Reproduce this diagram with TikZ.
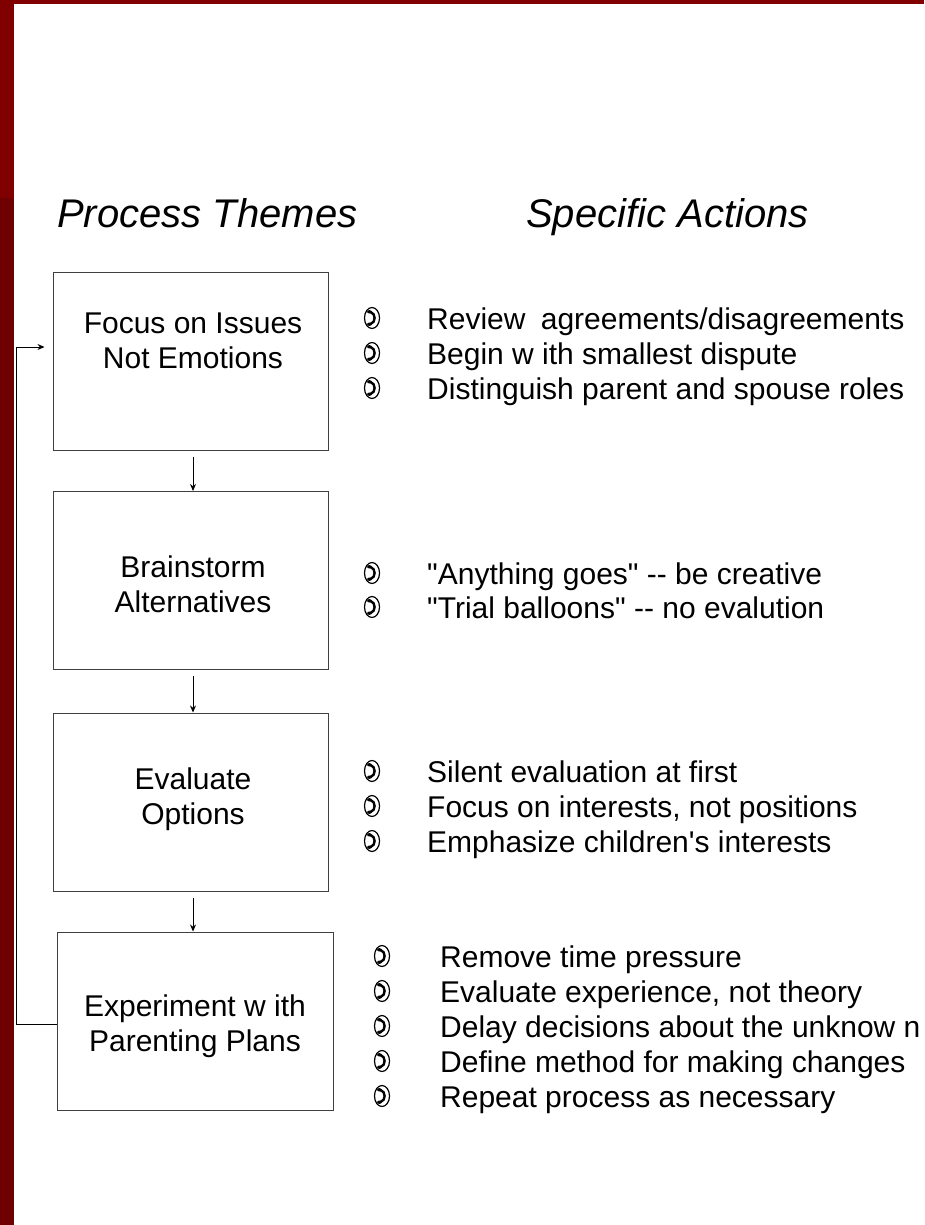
\documentclass[tikz,border=0pt]{standalone}
\usepackage{fontspec}
\setmainfont{Liberation Sans}[Ligatures=TeXOff]
\usetikzlibrary{arrows.meta}
\definecolor{barred}{HTML}{800000}
\definecolor{bardark}{HTML}{6E0000}
% one action line: bullet mark, then its text on the given baseline
\newcommand\actline[5]{%
  \pic at (#2,#4-11) {handsetmark};
  \node[item] (#1) at (#3,#4) {#5};}
\begin{document}
\begin{tikzpicture}[x=1pt,y=-1pt,
  box/.style={draw=black!75, line width=1pt, minimum width=275pt, minimum height=178pt, inner sep=0pt},
  boxtext/.style={align=center, font=\fontsize{30}{34.5}\selectfont, inner sep=0pt},
  head/.style={font=\fontsize{40}{40}\selectfont\itshape, anchor=base west, inner sep=0pt},
  item/.style={font=\fontsize{30}{30}\selectfont, anchor=base west, inner sep=0pt},
  arr/.style={-{Stealth[length=7pt,width=6pt]}, line width=1pt},
  handsetmark/.pic={
    \draw[line width=1.2pt] (0,0) ellipse [x radius=7.5, y radius=10.5];
    \draw[line width=2.4pt] (-1.5,-6) .. controls (4,-4.5) and (4,4.5) .. (-1.5,6);
    \fill (-2.6,-6.2) ellipse [x radius=2.3, y radius=1.7];
    \fill (-2.6,6.2) ellipse [x radius=2.3, y radius=1.7];
  }]
\useasboundingbox (0,0) rectangle (924,1225);
\clip (0,0) rectangle (924,1225);
\fill[white] (0,0) rectangle (924,1225);
% frame bars
\fill[barred] (0,0) rectangle (924,4);
\fill[barred] (0,0) rectangle (14,198);
\fill[bardark] (0,198) rectangle (14,1225);

% column headings
\node[head] (h1) at (57,227) {Process Themes};
\node[head] (h2) at (526,227) {Specific Actions};

% process boxes
\node[box] (b1) at (190.5,361) {};
\node[box] (b2) at (190.5,580.5) {};
\node[box] (b3) at (190.5,802) {};
\node[box, minimum width=276pt] (b4) at (195,1021) {};

\node[boxtext] (t1) at (193,341) {Focus on Issues\\Not Emotions};
\node[boxtext] (t2) at (193,584.5) {Brainstorm\\Alternatives};
\node[boxtext] (t3) at (193,799) {Evaluate\\Options};
\node[boxtext] (t4) at (195,1026) {Experiment w ith\\Parenting Plans};

% flow arrows
\draw[arr, shorten <=6pt] ([xshift=2.5pt]b1.south) -- ([xshift=2.5pt]b2.north);
\draw[arr, shorten <=6pt] ([xshift=2.5pt]b2.south) -- ([xshift=2.5pt]b3.north);
\draw[arr, shorten <=6pt] ([xshift=2.5pt]b3.south) -- ([xshift=2.5pt]b3.south |- b4.north);
% feedback loop back to the first theme
\draw[arr, shorten >=8pt] ([yshift=-3pt]b4.west) -- ++(-40,0) |- ([yshift=14pt]b1.west);

% action lists
\actline{a11}{372}{427}{329}{Review\hspace{7pt} agreements/disagreements}
\actline{a12}{372}{427}{364}{Begin w ith smallest dispute}
\actline{a13}{372}{427}{399}{Distinguish parent and spouse roles}

\actline{a21}{372}{427}{584}{"Anything goes" -- be creative}
\actline{a22}{372}{427}{618}{"Trial balloons" -- no evalution}

\actline{a31}{372}{427}{782}{Silent evaluation at first}
\actline{a32}{372}{427}{817}{Focus on interests, not positions}
\actline{a33}{372}{427}{852}{Emphasize children's interests}

\actline{a41}{382}{440}{967}{Remove time pressure}
\actline{a42}{382}{440}{1002}{Evaluate experience, not theory}
\actline{a43}{382}{440}{1037}{Delay decisions about the unknow n}
\actline{a44}{382}{440}{1072}{Define method for making changes}
\actline{a45}{382}{440}{1107}{Repeat process as necessary}
\end{tikzpicture}
\end{document}
